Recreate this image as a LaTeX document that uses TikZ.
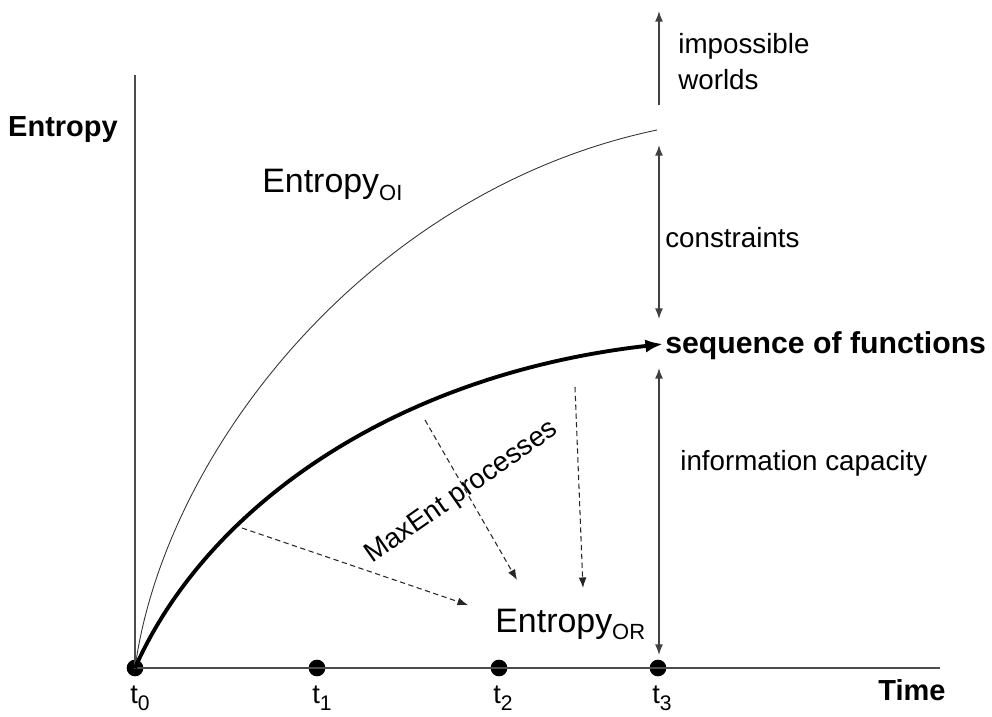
\documentclass[tikz,border=0pt]{standalone}
\usepackage{fontspec}
\setmainfont{Liberation Sans}
\usetikzlibrary{arrows.meta}

% lowered subscript of a given size
\newcommand{\lowsub}[3]{\raisebox{-#2}{\fontsize{#1}{#1}\selectfont #3}}

\begin{document}
\begin{tikzpicture}[x=0.02cm,y=-0.02cm,
  lbl/.style={font=\fontsize{15.8}{20.4}\selectfont, inner sep=0pt},
  big/.style={font=\fontsize{19.3}{22}\selectfont, inner sep=0pt},
  heading/.style={font=\fontsize{16.5}{19}\selectfont\bfseries, inner sep=0pt},
  tlabel/.style={font=\fontsize{15.5}{18}\selectfont, inner sep=0pt, anchor=base},
  dot/.style={circle, fill=black, inner sep=0pt, minimum size=9.5pt},
  axis/.style={draw=black!70, line width=0.9pt},
  span/.style={draw=black!75, line width=0.8pt},
  tip/.style={-{Latex[length=6pt,width=4.5pt]}},
  twotip/.style={{Latex[length=6pt,width=4.5pt]}-{Latex[length=6pt,width=4.5pt]}},
  process/.style={draw=black!85, line width=0.6pt, dash pattern=on 3pt off 2pt, tip},
]
\useasboundingbox (0,0) rectangle (992,717);

% axes and time points
\coordinate (ytop) at (135,75);
\coordinate (xend) at (940,668);
\node[dot] (d0) at (135,668) {};
\node[dot] (d1) at (317,668) {};
\node[dot] (d2) at (499,668) {};
\node[dot] (d3) at (658,668) {};
\draw[axis] (ytop) -- (d0.center) -- (xend);

\node[tlabel] (t0) at (140,703) {t\lowsub{12}{4.5pt}{0}};
\node[tlabel] (t1) at (322,703) {t\lowsub{12}{4.5pt}{1}};
\node[tlabel] (t2) at (503,703) {t\lowsub{12}{4.5pt}{2}};
\node[tlabel] (t3) at (662,703) {t\lowsub{12}{4.5pt}{3}};

\node[heading] (ylab) at (63,130) {Entropy};
\node[heading] (xlab) at (912,690) {Time};

% upper bound curve
\coordinate (oiend) at (657,130);
\draw[black!80, line width=0.5pt] (d0.center) .. controls (165,450) and (370,190) .. (oiend);
% sequence of functions
\coordinate (seqend) at (663,344);
\draw[line width=2.2pt, -{Latex[length=10pt,width=7.5pt]}]
  (d0.center) .. controls (205,510) and (390,375) .. (seqend);

\node[big, anchor=base west] (eoi) at (262,192) {Entropy\lowsub{12.5}{5pt}{OI}};
\node[big, anchor=base west] (eor) at (495,632) {Entropy\lowsub{12.5}{4.5pt}{OR}};

% MaxEnt processes
\coordinate (p1s) at (242,528);
\coordinate (p1e) at (468,605);
\coordinate (p2s) at (425,420);
\coordinate (p2e) at (517,580);
\coordinate (p3s) at (575,387);
\coordinate (p3e) at (583,588);
\draw[process] (p1s) -- (p1e);
\draw[process] (p2s) -- (p2e);
\draw[process] (p3s) -- (p3e);
\node[lbl, rotate=35] (maxent) at (462,493) {MaxEnt processes};

% right-hand spans
\coordinate (a1s) at (659,105);
\coordinate (a1e) at (659,11);
\coordinate (a2s) at (659,145);
\coordinate (a2e) at (659,319);
\coordinate (a3s) at (659,368);
\coordinate (a3e) at (659,655);
\draw[span, tip] (a1s) -- (a1e);
\draw[span, twotip] (a2s) -- (a2e);
\draw[span, twotip] (a3s) -- (a3e);

\node[lbl, anchor=base west, align=left] (imp) at (678,89) {impossible\\worlds};
\node[lbl, anchor=base west] (con) at (665,247) {constraints};
\node[heading, font=\fontsize{17.2}{19}\selectfont\bfseries, anchor=base west] (seq) at (665,353) {sequence of functions};
\node[lbl, anchor=base west] (cap) at (680,470) {information capacity};
\end{tikzpicture}
\end{document}
